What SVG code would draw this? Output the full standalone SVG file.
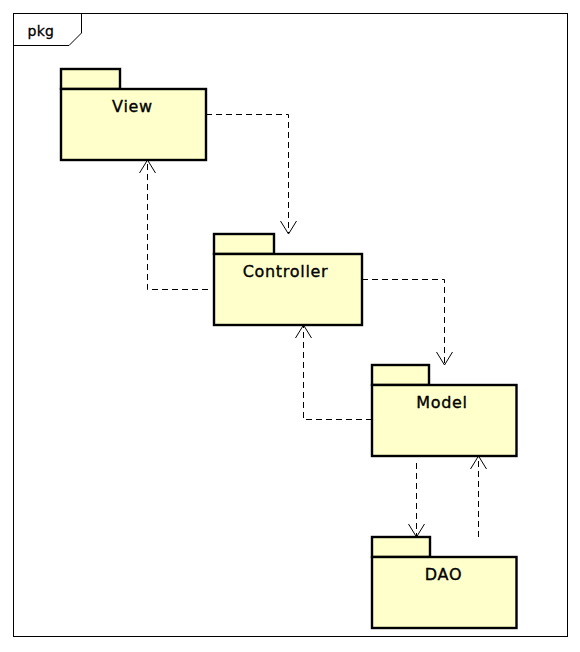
<svg xmlns="http://www.w3.org/2000/svg" width="580" height="652" viewBox="0 0 580 652">
  <style>
    .frame { fill: none; stroke: #000; stroke-width: 1; }
    .pkg { fill: #ffffcc; stroke: #000; stroke-width: 2.4; }
    .name { font-family: "DejaVu Sans", sans-serif; font-size: 16px; letter-spacing: 0.7px; text-anchor: middle; fill: #000; stroke: #000; stroke-width: 0.35; }
    .title { font-family: "DejaVu Sans", sans-serif; font-size: 14px; letter-spacing: 0.3px; fill: #000; stroke: #000; stroke-width: 0.3; }
    .dep { fill: none; stroke: #000; stroke-width: 1; stroke-dasharray: 6 4; }
  </style>
  <rect width="580" height="652" fill="#fff"/>

  <!-- diagram frame -->
  <g id="frame">
    <rect class="frame" x="13.5" y="13.5" width="554" height="623"/>
    <path class="frame" d="M13.5,45.5 H69 L81.5,33 V13.5"/>
    <text class="title" x="27.5" y="36">pkg</text>
  </g>

  <!-- dependencies -->
  <g id="connectors">
    <path class="dep" d="M206,114.5 H288.5 V233"/>
    <path class="dep" d="M208,289.5 H147.5 V161"/>
    <path class="dep" d="M362,279.5 H444.5 V364"/>
    <path class="dep" d="M372,419.5 H303.5 V326"/>
    <path class="dep" d="M416.5,463 V536"/>
    <path class="dep" d="M478.5,537 V457"/>
    <!-- open arrowheads -->
    <g fill="none" stroke="#000" stroke-width="1">
      <path d="M280.5,221 L288.5,234 L296.5,221"/>
      <path d="M139.5,173 L147.5,160 L155.5,173"/>
      <path d="M436.5,352 L444.5,365 L452.5,352"/>
      <path d="M295.5,338 L303.5,325 L311.5,338"/>
      <path d="M408.5,524 L416.5,537 L424.5,524"/>
      <path d="M470.5,469 L478.5,456 L486.5,469"/>
    </g>
  </g>

  <g id="view">
    <rect class="pkg" x="61" y="69" width="59" height="20"/>
    <rect class="pkg" x="61" y="89" width="145" height="71"/>
    <text class="name" x="132.5" y="112">View</text>
  </g>

  <g id="controller">
    <rect class="pkg" x="214" y="234" width="60" height="20"/>
    <rect class="pkg" x="214" y="254" width="148" height="71"/>
    <text class="name" x="285.5" y="277">Controller</text>
  </g>

  <g id="model">
    <rect class="pkg" x="372" y="365" width="57" height="20"/>
    <rect class="pkg" x="372" y="385" width="144.5" height="71"/>
    <text class="name" x="442" y="408">Model</text>
  </g>

  <g id="dao">
    <rect class="pkg" x="372" y="537" width="58" height="20"/>
    <rect class="pkg" x="372" y="557" width="144.5" height="71"/>
    <text class="name" x="443.5" y="580">DAO</text>
  </g>
</svg>
